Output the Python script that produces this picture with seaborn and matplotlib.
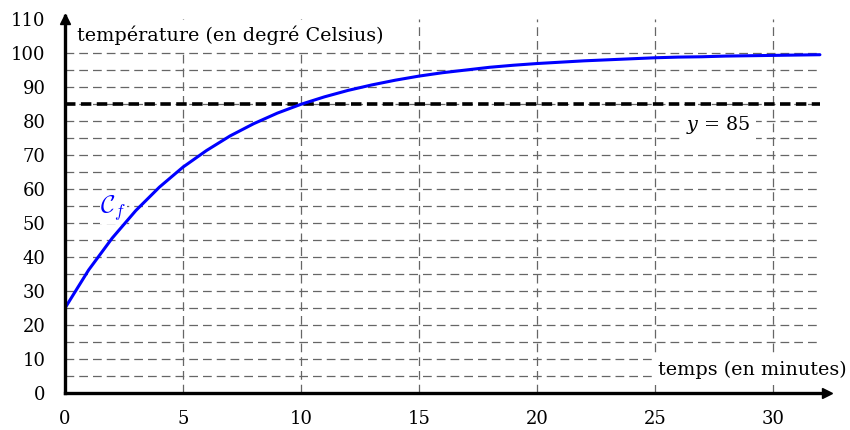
import numpy as np
import pandas as pd
import matplotlib
matplotlib.use("Agg")
import matplotlib.pyplot as plt
import seaborn as sns

# Values (minutes -> degrees Celsius)
temps_min = [0, 1, 2, 3, 4, 5, 6, 7, 8, 9, 10, 11, 12, 13, 14, 15, 16,
             17, 18, 19, 20, 21, 22, 23, 24, 25, 26, 27, 28, 29, 30, 31, 32]
temperature = [25.0, 36.2, 45.6, 53.7, 60.6, 66.5, 71.4, 75.7, 79.3, 82.4,
               85.0, 87.2, 89.1, 90.7, 92.1, 93.3, 94.3, 95.1, 95.9, 96.5,
               97.0, 97.4, 97.8, 98.1, 98.4, 98.7, 98.9, 99.0, 99.2, 99.3,
               99.4, 99.5, 99.6]
seuil = 85
x_ticks = [0, 5, 10, 15, 20, 25, 30]
y_ticks = [0, 10, 20, 30, 40, 50, 60, 70, 80, 90, 100, 110]
grid_x = [5, 10, 15, 20, 25, 30]
grid_y = [5, 10, 15, 20, 25, 30, 35, 40, 45, 50, 55, 60, 65, 70, 75, 80,
          85, 90, 95, 100]

df = pd.DataFrame({"t": temps_min, "T": temperature})

sns.set_theme(style="white")
plt.rcParams['font.family'] = ['DejaVu Serif', 'Liberation Serif']
plt.rcParams['text.color'] = 'black'

fig = plt.figure(figsize=(8.5, 4.3), dpi=100)
ax = fig.add_axes([65 / 850, 37 / 430, 762 / 850, 377 / 430])
ax.set_xlim(0, 32.3)
ax.set_ylim(0, 111)

# dashed grid
ax.hlines(grid_y, 0, 32, colors='#666666', linewidth=0.9,
          linestyles=(0, (7, 4)), zorder=1)
ax.vlines(grid_x, 0, 110, colors='#666666', linewidth=0.9,
          linestyles=(0, (7, 4)), zorder=1)

# y = 85 threshold
ax.hlines(seuil, 0, 32, colors='black', linewidth=2.6,
          linestyles=(0, (2.9, 1.5)), zorder=3)

sns.lineplot(data=df, x="t", y="T", ax=ax, color='#0000ff', linewidth=2.2,
             zorder=4)

# axes with arrows
for s in ['top', 'right']:
    ax.spines[s].set_visible(False)
for s in ['left', 'bottom']:
    ax.spines[s].set_linewidth(2.4)
    ax.spines[s].set_color('black')
    ax.spines[s].set_zorder(5)
ax.plot(1, 0, marker='>', color='black', markersize=7,
        transform=ax.get_yaxis_transform(), clip_on=False, zorder=6)
ax.plot(0, 110, marker='^', color='black', markersize=7,
        clip_on=False, zorder=6)

ax.set_xticks(x_ticks)
ax.set_yticks(y_ticks)
ax.tick_params(axis='x', direction='inout', length=16, width=1.0,
               labelsize=13, pad=4, colors='black')
ax.tick_params(axis='y', direction='out', length=8, width=1.0,
               labelsize=13, pad=6, colors='black')
ax.set_xlabel("")
ax.set_ylabel("")
ax.grid(False)

box = dict(facecolor='white', edgecolor='none', pad=4)
ax.text(0.5, 105.2, "température (en degré Celsius)", fontsize=13.8,
        va='center', ha='left', bbox=box, zorder=5)
ax.text(33.15, 6.8, "temps (en minutes)", fontsize=13.8, va='center',
        ha='right', bbox=box, zorder=5, clip_on=False)
ax.text(27.7, 78.8, r"$y$ = 85", fontsize=13.8, va='center', ha='center',
        bbox=box, zorder=5, math_fontfamily='dejavuserif')
ax.text(2.05, 54.4, r"$\mathcal{C}_f$", fontsize=18, color='#0000ff',
        va='center', ha='center', zorder=3.5, math_fontfamily='cm',
        bbox=dict(facecolor='white', edgecolor='none', pad=0.5))

fig.savefig("out.png", dpi=100)
